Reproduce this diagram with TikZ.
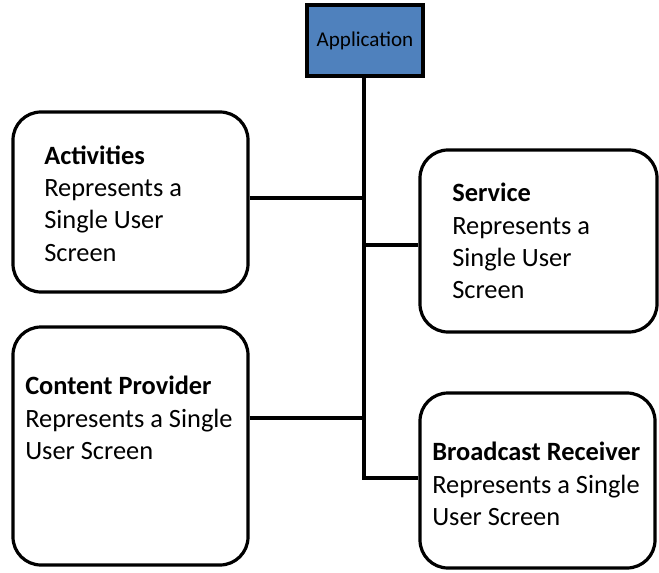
\documentclass[tikz,border=0pt]{standalone}
\usepackage{fontspec}
\setmainfont{Carlito}
\begin{document}
\begin{tikzpicture}[x=0.75pt,y=-0.75pt,
  card/.style={draw=black,line width=2.4pt,rounded corners=21pt,fill=white,inner sep=0pt},
  cardtext/.style={anchor=west,align=left,inner sep=0pt,font=\fontsize{19.8}{24.2}\selectfont},
  link/.style={draw=black,line width=2.4pt,line join=miter}]
\useasboundingbox (0,0) rectangle (659,573);
% application
\node[draw=black,line width=3.2pt,fill={rgb,255:red,79;green,129;blue,189},
      minimum width=87pt,minimum height=53.25pt,inner sep=0pt,
      font=\fontsize{15.8}{18}\selectfont] (app) at (365,40.5) {Application};
% cards
\node[card,minimum width=176.25pt,minimum height=135pt] (act) at (130.5,202) {};
\node[card,minimum width=177.75pt,minimum height=136.5pt] (svc) at (538.5,241) {};
\node[card,minimum width=176.25pt,minimum height=178.5pt] (cp) at (130.5,446) {};
\node[card,minimum width=176.25pt,minimum height=131.25pt] (br) at (537.5,480.5) {};
% texts
\node[cardtext] (actt) at (44,203.5) {\textbf{Activities}\\Represents a\\Single User\\Screen};
\node[cardtext] (svct) at (452,241) {\textbf{Service}\\Represents a\\Single User\\Screen};
\node[cardtext] (cpt) at (25,418) {\textbf{Content Provider}\\Represents a Single\\User Screen};
\node[cardtext] (brt) at (432,484) {\textbf{Broadcast Receiver}\\Represents a Single\\User Screen};
% junctions
\coordinate (j1) at (364,198);
\coordinate (j2) at (364,245);
\coordinate (j3) at (364,418);
\coordinate (j4) at (364,478);
% connectors
\draw[link] (app.south -| j4) -- (j4) -- (br.west |- j4);
\draw[link] (act.east |- j1) -- (j1);
\draw[link] (j2) -- (svc.west |- j2);
\draw[link] (cp.east |- j3) -- (j3);
\end{tikzpicture}
\end{document}
